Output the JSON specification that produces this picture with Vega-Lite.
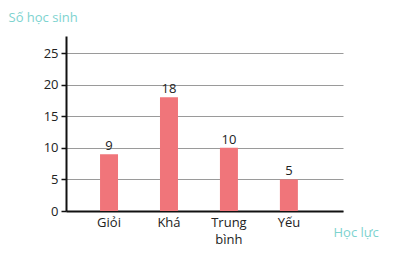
{
  "$schema": "https://vega.github.io/schema/vega-lite/v6.json",
  "autosize": "none",
  "width": 277,
  "height": 175,
  "padding": {"left": 66, "top": 36, "right": 57, "bottom": 45},
  "background": "#ffffff",
  "data": {"values": [
    {"hoc_luc": "Giỏi", "so_hoc_sinh": 9},
    {"hoc_luc": "Khá", "so_hoc_sinh": 18},
    {"hoc_luc": "Trung bình", "so_hoc_sinh": 10},
    {"hoc_luc": "Yếu", "so_hoc_sinh": 5}
  ]},
  "config": {
    "view": {"stroke": null},
    "font": "Open Sans"
  },
  "encoding": {
    "x": {
      "field": "hoc_luc", "type": "nominal", "sort": null,
      "scale": {"paddingInner": 0.7, "paddingOuter": 0.66, "align": 0.43},
      "axis": {
        "title": "Học lực", "titleColor": "#7dd3cf", "titleFontSize": 13, "titleFontWeight": "normal",
        "titleAngle": 0, "titleAlign": "left", "titleBaseline": "middle", "titleX": 267, "titleY": 21,
        "labelAngle": 0, "labelFontSize": 13, "labelColor": "#222222", "labelPadding": 5,
        "labelExpr": "datum.label == 'Trung bình' ? ['Trung', 'bình'] : datum.label",
        "labelLineHeight": 17,
        "ticks": false, "domainColor": "#111111", "domainWidth": 2, "grid": false
      }
    },
    "y": {
      "field": "so_hoc_sinh", "type": "quantitative",
      "scale": {"domain": [0, 27.7], "nice": false},
      "axis": {
        "values": [0, 5, 10, 15, 20, 25],
        "title": "Số học sinh", "titleColor": "#7dd3cf", "titleFontSize": 13, "titleFontWeight": "normal",
        "titleAngle": 0, "titleAlign": "left", "titleBaseline": "middle", "titleX": -58, "titleY": -19,
        "labelFontSize": 13, "labelColor": "#222222", "labelPadding": 3,
        "tickSize": 5, "tickColor": "#111111", "tickWidth": 1.5,
        "domainColor": "#111111", "domainWidth": 2,
        "grid": true, "gridColor": "#9a9a9a", "gridWidth": 1
      }
    }
  },
  "layer": [
    {"mark": {"type": "bar", "color": "#f0757a"}},
    {"mark": {"type": "text", "dy": -8, "fontSize": 13, "color": "#222222"},
     "encoding": {"text": {"field": "so_hoc_sinh", "type": "quantitative"}}}
  ]
}
